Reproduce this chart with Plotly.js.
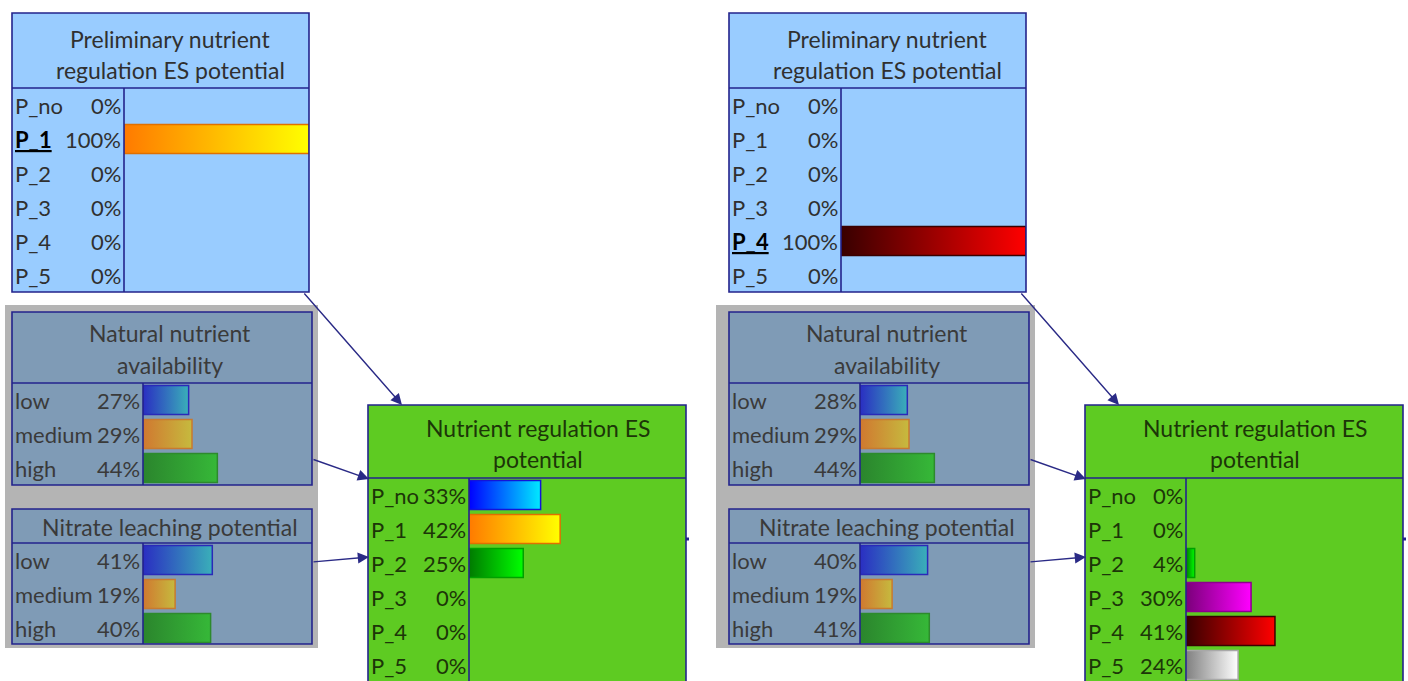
<!DOCTYPE html>
<html>
<head>
<meta charset="utf-8">
<script src="https://cdn.plot.ly/plotly-3.0.1.min.js"></script>
<style>html,body{margin:0;padding:0;background:#fff;}#chart{width:1408px;height:681px;}</style>
</head>
<body>
<div id="chart"></div>
<script>
// ---------------- data ----------------
const prelimTitle = ['Preliminary nutrient', 'regulation ES potential'];
const prelimStates = ['P_no', 'P_1', 'P_2', 'P_3', 'P_4', 'P_5'];
const prelimLeft = [0, 100, 0, 0, 0, 0];
const prelimRight = [0, 0, 0, 0, 100, 0];
const prelimFindingLeft = 'P_1';
const prelimFindingRight = 'P_4';

const nnaTitle = ['Natural nutrient', 'availability'];
const nnaStates = ['low', 'medium', 'high'];
const nnaLeft = [27, 29, 44];
const nnaRight = [28, 29, 44];

const nlpTitle = ['Nitrate leaching potential'];
const nlpStates = ['low', 'medium', 'high'];
const nlpLeft = [41, 19, 40];
const nlpRight = [40, 19, 41];

const nrTitle = ['Nutrient regulation ES', 'potential'];
const nrStates = ['P_no', 'P_1', 'P_2', 'P_3', 'P_4', 'P_5'];
const nrLeft = [33, 42, 25, 0, 0, 0];
const nrRight = [0, 0, 4, 30, 41, 24];

// ---------------- styles ----------------
const W = 1408, Hh = 681;
const px = x => x / W;
const py = y => 1 - y / Hh;
const ROW = 34, BH = 0.43;
const NAVY = '#23238c';
const pGrad = [['#0000ff', '#00eaff'], ['#ff7a00', '#ffff00'], ['#007a00', '#00ff00'],
               ['#7a007a', '#ff00ff'], ['#380000', '#ff0000'], ['#808080', '#ffffff']];
const pBorder = ['#1414d8', '#e07000', '#00a000', '#8c008c', '#3a0000', '#a8a8a8'];
const gGrad = [['#2a2ec2', '#3aafb9'], ['#d07830', '#c6ba3e'], ['#2b852d', '#36b838']];
const gBorder = ['#2a2ab8', '#c87a30', '#2d8a2d'];
const FONT = 'Lato, "Open Sans", sans-serif';
const ROWFONT = 22, TITLEFONT = 23;

const OFF = 717;
const geo = {
  prelim: {x0: 12, x1: 309, y0: 13, yT: 88, y1: 292, div: 124, cx: 170, ty: [39, 70], fill: '#99ccff', txt: '#303030'},
  nna:    {x0: 12, x1: 312, y0: 312, yT: 383, y1: 485, div: 143, cx: 170, ty: [333, 365], fill: '#7f9bb6', txt: '#3a3a3a'},
  nlp:    {x0: 12, x1: 312, y0: 509, yT: 543, y1: 644, div: 143, cx: 170, ty: [527], fill: '#7f9bb6', txt: '#3a3a3a'},
  nr:     {x0: 368, x1: 686, y0: 405, yT: 478, y1: 700, div: 469, cx: 538, ty: [428, 459], fill: '#5ecb22', txt: '#1c3608'}
};

const traces = [], shapes = [], annotations = [], layout = {};
let axN = 0;

function node(g, off, title, states, vals, grads, borders, finding) {
  axN++;
  const id = axN === 1 ? '' : String(axN);
  const x0 = g.x0 + off, x1 = g.x1 + off, div = g.div + off;
  const yb = Math.min(g.y1, Hh);
  shapes.push({type: 'rect', xref: 'paper', yref: 'paper', x0: px(x0), x1: px(x1), y0: py(g.y0), y1: py(g.y1),
               fillcolor: g.fill, line: {width: 0}, layer: 'below'});
  layout['xaxis' + id] = {domain: [px(div), px(x1)], range: [0, 100], visible: false, fixedrange: true, anchor: 'y' + id};
  layout['yaxis' + id] = {domain: [py(yb), py(g.yT)], range: [-0.5 + (yb - g.yT) / ROW, -0.5], visible: false, fixedrange: true, anchor: 'x' + id};
  vals.forEach((v, i) => {
    if (v > 0) {
      traces.push({type: 'scatter', xaxis: 'x' + id, yaxis: 'y' + id,
        x: [0, v, v, 0, 0], y: [i - BH, i - BH, i + BH, i + BH, i - BH],
        mode: 'lines', fill: 'toself',
        fillgradient: {type: 'horizontal', colorscale: [[0, grads[i][0]], [1, grads[i][1]]]},
        line: {color: borders[i], width: 1.5}, hoverinfo: 'skip', showlegend: false});
    }
    const lab = states[i] === finding ? '<b><u>' + states[i] + '</u></b>' : states[i];
    annotations.push({xref: 'paper', yref: 'y' + id, x: px(x0 + 1), y: i, text: lab, showarrow: false,
      xanchor: 'left', yanchor: 'middle', font: {family: FONT, size: ROWFONT, color: states[i] === finding ? '#000' : g.txt}});
    annotations.push({xref: 'paper', yref: 'y' + id, x: px(div - 1), y: i, text: v + '%', showarrow: false,
      xanchor: 'right', yanchor: 'middle', font: {family: FONT, size: ROWFONT, color: g.txt}});
  });
  title.forEach((t, k) => {
    annotations.push({xref: 'paper', yref: 'paper', x: px(g.cx + off), y: py(g.ty[k]), text: t, showarrow: false,
      xanchor: 'center', yanchor: 'middle', font: {family: FONT, size: TITLEFONT, color: g.txt}});
  });
  shapes.push({type: 'rect', xref: 'paper', yref: 'paper', x0: px(x0), x1: px(x1), y0: py(g.y0), y1: py(g.y1),
               line: {color: NAVY, width: 1.6}, fillcolor: 'rgba(0,0,0,0)', layer: 'above'});
  shapes.push({type: 'line', xref: 'paper', yref: 'paper', x0: px(x0), x1: px(x1), y0: py(g.yT), y1: py(g.yT),
               line: {color: NAVY, width: 1.6}, layer: 'above'});
  shapes.push({type: 'line', xref: 'paper', yref: 'paper', x0: px(div), x1: px(div), y0: py(g.yT), y1: py(g.y1),
               line: {color: NAVY, width: 1.6}, layer: 'above'});
}

function arrow(tx, ty, hx, hy) {
  annotations.push({xref: 'paper', yref: 'paper', x: px(hx), y: py(hy), ax: tx - hx, ay: ty - hy,
    axref: 'pixel', ayref: 'pixel', text: '', showarrow: true, arrowhead: 2, arrowsize: 1.6,
    arrowwidth: 1.4, arrowcolor: '#2a2a86', standoff: 0, startstandoff: 0});
}

[[0, prelimLeft, nnaLeft, nlpLeft, nrLeft, prelimFindingLeft, 5, 318],
 [OFF, prelimRight, nnaRight, nlpRight, nrRight, prelimFindingRight, 716, 1035]].forEach(s => {
  const off = s[0];
  shapes.push({type: 'rect', xref: 'paper', yref: 'paper', x0: px(s[6]), x1: px(s[7]), y0: py(305), y1: py(648),
               fillcolor: '#b4b4b4', line: {width: 0}, layer: 'below'});
  node(geo.prelim, off, prelimTitle, prelimStates, s[1], pGrad, pBorder, s[5]);
  node(geo.nna, off, nnaTitle, nnaStates, s[2], gGrad, gBorder, null);
  node(geo.nlp, off, nlpTitle, nlpStates, s[3], gGrad, gBorder, null);
  node(geo.nr, off, nrTitle, nrStates, s[4], pGrad, pBorder, null);
  arrow(303 + off, 292, 402 + off, 405);
  arrow(312 + off, 459, 369 + off, 479);
  arrow(312 + off, 562, 369 + off, 557);
  shapes.push({type: 'rect', xref: 'paper', yref: 'paper', x0: px(686 + off), x1: px(689 + off), y0: py(537.5), y1: py(540.5),
               fillcolor: NAVY, line: {width: 0}, layer: 'above'});
});

Object.assign(layout, {
  width: W, height: Hh, margin: {l: 0, r: 0, t: 0, b: 0},
  paper_bgcolor: '#ffffff', plot_bgcolor: 'rgba(0,0,0,0)',
  showlegend: false, shapes: shapes, annotations: annotations,
  font: {family: FONT}
});

Plotly.newPlot('chart', traces, layout, {staticPlot: true, displayModeBar: false});
</script>
</body>
</html>
